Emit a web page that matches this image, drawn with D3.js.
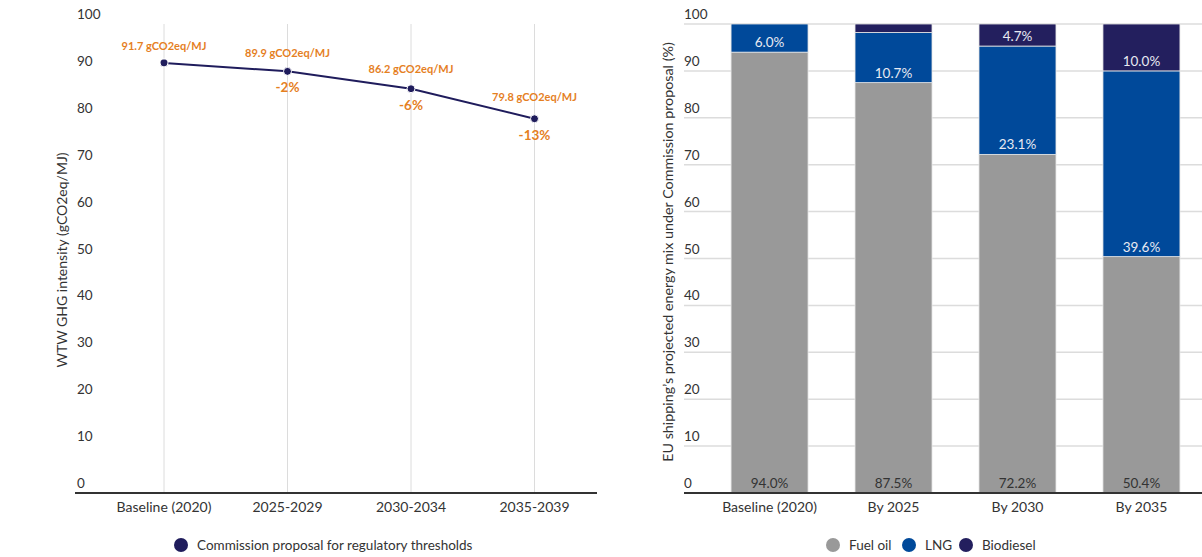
<!DOCTYPE html>
<html><head><meta charset="utf-8">
<script src="https://cdn.jsdelivr.net/npm/d3@7/dist/d3.min.js"></script>
<style>body{margin:0;background:#fff;} svg{display:block;font-family:Lato, "Noto Sans", sans-serif;}</style>
</head><body>
<svg id="c" width="1202" height="557"></svg>
<script>
// Left chart data
const periods = ["Baseline (2020)", "2025-2029", "2030-2034", "2035-2039"];
const intensity = [91.7, 89.9, 86.2, 79.8];
const intensityLabels = ["91.7 gCO2eq/MJ", "89.9 gCO2eq/MJ", "86.2 gCO2eq/MJ", "79.8 gCO2eq/MJ"];
const changeLabels = ["", "-2%", "-6%", "-13%"];
const yTicks = [0, 10, 20, 30, 40, 50, 60, 70, 80, 90, 100];
// Right chart data
const milestones = ["Baseline (2020)", "By 2025", "By 2030", "By 2035"];
const fuelOil = [94.0, 87.5, 72.2, 50.4];
const lng = [6.0, 10.7, 23.1, 39.6];
const biodiesel = [0.0, 1.8, 4.7, 10.0];
const fuels = ["Fuel oil", "LNG", "Biodiesel"];
const fuelColors = ["#999999", "#00499a", "#231f5e"];
const labelColors = ["#333333", "#e8eaf2", "#e8eaf2"];

const svg = d3.select("#c");
const orange = "#e5801f", navy = "#1f1c5c";
const y = d3.scaleLinear().domain([0, 100]).range([493, 24]);

// ---------- Left chart ----------
const L = svg.append("g");
const xL = d3.scalePoint().domain(periods).range([164, 534.5]);
L.append("g").selectAll("line").data(periods).join("line")
  .attr("x1", d => xL(d)).attr("x2", d => xL(d)).attr("y1", y(100)).attr("y2", y(0))
  .attr("stroke", "#dcdcdc").attr("stroke-width", 1);
L.append("g").selectAll("text").data(yTicks).join("text")
  .attr("x", 77).attr("y", d => y(d) - 5).text(d => d)
  .attr("font-size", 13.5).attr("fill", "#333");
L.append("line").attr("x1", 75).attr("x2", 597).attr("y1", 493).attr("y2", 493)
  .attr("stroke", "#333").attr("stroke-width", 2);
L.append("g").selectAll("text").data(periods).join("text")
  .attr("x", d => xL(d)).attr("y", 512).attr("text-anchor", "middle")
  .attr("font-size", 14).attr("fill", "#333").text(d => d);
L.append("text").attr("transform", "translate(67,260) rotate(-90)")
  .attr("text-anchor", "middle").attr("font-size", 14).attr("fill", "#333")
  .text("WTW GHG intensity (gCO2eq/MJ)");
const pts = periods.map((p, i) => [xL(p), y(intensity[i])]);
L.append("path").attr("d", d3.line()(pts)).attr("fill", "none")
  .attr("stroke", navy).attr("stroke-width", 2);
L.append("g").selectAll("circle").data(pts).join("circle")
  .attr("cx", d => d[0]).attr("cy", d => d[1]).attr("r", 4).attr("fill", navy)
  .attr("stroke", "#fff").attr("stroke-width", 1);
L.append("g").selectAll("text").data(periods).join("text")
  .attr("x", d => xL(d)).attr("y", (d, i) => y(intensity[i]) - 13 - i * 1.5)
  .attr("text-anchor", "middle").attr("font-size", 11).attr("font-weight", "bold")
  .attr("fill", orange).text((d, i) => intensityLabels[i]);
L.append("g").selectAll("text").data(periods).join("text")
  .attr("x", d => xL(d)).attr("y", (d, i) => y(intensity[i]) + 21)
  .attr("text-anchor", "middle").attr("font-size", 13.5).attr("font-weight", "bold")
  .attr("fill", orange).text((d, i) => changeLabels[i]);
L.append("circle").attr("cx", 181).attr("cy", 545).attr("r", 7).attr("fill", navy);
L.append("text").attr("x", 197).attr("y", 550).attr("font-size", 13.5).attr("fill", "#333")
  .text("Commission proposal for regulatory thresholds");

// ---------- Right chart ----------
const R = svg.append("g");
const xR = d3.scaleBand().domain(milestones).range([707.5, 1203.5]).paddingInner(0.379).paddingOuter(0.19);
R.append("g").selectAll("line").data(yTicks.filter(d => d > 0)).join("line")
  .attr("x1", 684).attr("x2", 1202).attr("y1", d => y(d)).attr("y2", d => y(d))
  .attr("stroke", "#dcdcdc").attr("stroke-width", 1.5);
R.append("g").selectAll("text").data(yTicks).join("text")
  .attr("x", 684).attr("y", d => y(d) - 5).text(d => d)
  .attr("font-size", 13.5).attr("fill", "#333");
R.append("text").attr("transform", "translate(673,252) rotate(-90)")
  .attr("text-anchor", "middle").attr("font-size", 14.3).attr("fill", "#333")
  .text("EU shipping\u2019s projected energy mix under Commission proposal (%)");

const rows = milestones.map((m, i) => ({ m, "Fuel oil": fuelOil[i], "LNG": lng[i], "Biodiesel": biodiesel[i] }));
const stacked = d3.stack().keys(fuels)(rows);
stacked.forEach((s, si) => {
  R.append("g").selectAll("rect").data(s).join("rect")
    .attr("x", d => xR(d.data.m)).attr("width", xR.bandwidth())
    .attr("y", d => y(d[1])).attr("height", d => y(d[0]) - y(d[1]))
    .attr("fill", fuelColors[si]).attr("stroke", "#e6e6e6").attr("stroke-width", 0.8);
});
stacked.forEach((s, si) => {
  R.append("g").selectAll("text").data(s.filter(d => d[1] - d[0] >= 3)).join("text")
    .attr("x", d => xR(d.data.m) + xR.bandwidth() / 2).attr("y", d => y(d[0]) - 5)
    .attr("text-anchor", "middle").attr("font-size", 13.5).attr("fill", labelColors[si])
    .text(d => d3.format(".1f")(d[1] - d[0]) + "%");
});
R.append("line").attr("x1", 684).attr("x2", 1202).attr("y1", 493).attr("y2", 493)
  .attr("stroke", "#333").attr("stroke-width", 2);
R.append("g").selectAll("text").data(milestones).join("text")
  .attr("x", d => xR(d) + xR.bandwidth() / 2).attr("y", 512).attr("text-anchor", "middle")
  .attr("font-size", 14).attr("fill", "#333").text(d => d);
const legX = [833, 909, 966];
fuels.forEach((f, i) => {
  R.append("circle").attr("cx", legX[i]).attr("cy", 545).attr("r", 7).attr("fill", fuelColors[i]);
  R.append("text").attr("x", legX[i] + 16).attr("y", 550).attr("font-size", 13.5).attr("fill", "#333").text(f);
});
</script>
</body></html>
